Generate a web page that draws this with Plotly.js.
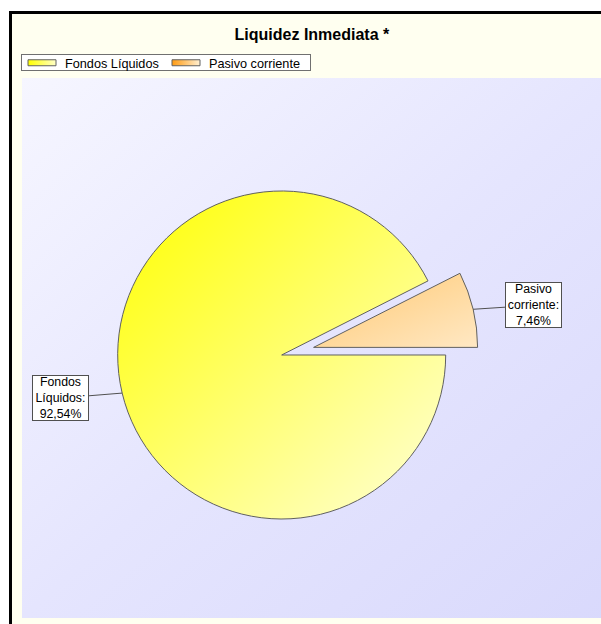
<!DOCTYPE html>
<html>
<head>
<meta charset="utf-8">
<script src="https://cdn.plot.ly/plotly-3.0.1.min.js"></script>
<style>
  html, body { margin: 0; padding: 0; background: #ffffff; width: 601px; height: 624px; overflow: hidden; }
  #frame { position: absolute; left: 9px; top: 11px; width: 640px; height: 640px;
           border-left: 3px solid #000; border-top: 3px solid #000; background: #fffff0; }
  #plotbg { position: absolute; left: 22px; top: 78px; width: 600px; height: 540px;
            background: linear-gradient(to bottom right, #f6f6ff 0%, #e5e5fe 50%, #d9d9fc 100%); }
  #chart { position: absolute; left: 0; top: 0; width: 601px; height: 624px; }
</style>
</head>
<body>
<div id="frame"></div>
<div id="plotbg"></div>
<div id="chart"></div>
<script>
// ---- data ----
const categories = ['Fondos Líquidos', 'Pasivo corriente'];
const values = [92.54, 7.46];
const pulls = [0, 0.2];

// ---- style ----
const W = 601, H = 624;
const domainX = [0.1412, 0.7962];
const domainY = [0.1157, 0.7465];
const rotation = 90; // start at 3 o'clock, clockwise
const baseColors = ['#ffff66', '#ffd899'];
const sliceGrad = [['#ffff00', '#ffffd8'], ['#ffc870', '#ffe8c4']];
const legendGrad = [['#ffff00', '#ffffc8'], ['#ff9a10', '#fff0d4']];
const labelOffsets = [[-61.5, 5], [60.5, -4]];
const font = 'Liberation Sans, Arial, sans-serif';

function fmtPct(v) { return v.toFixed(2).replace('.', ',') + '%'; }

// compute leader tips from pie geometry
const total = values.reduce((a, b) => a + b, 0);
const boxW = W * (domainX[1] - domainX[0]);
const boxH = H * (domainY[1] - domainY[0]);
const maxPull = Math.max.apply(null, pulls);
const r = Math.min(boxW / 2, boxH / 2) / (1 + maxPull);
const cx = W * (domainX[0] + domainX[1]) / 2;
const cy = H * (1 - domainY[0]) - boxH / 2;

let cum = 0;
const annotations = categories.map((c, i) => {
  const frac = values[i] / total;
  const midCw = rotation + (cum + frac / 2) * 360; // clockwise from 12 o'clock
  cum += frac;
  const a = midCw * Math.PI / 180;
  const rr = r * (1 + pulls[i]);
  const px = cx + rr * Math.sin(a);
  const py = cy - rr * Math.cos(a);
  return {
    x: px / W, y: 1 - py / H, xref: 'paper', yref: 'paper',
    text: c.replace(' ', '<br>') + ':<br>' + fmtPct(values[i]),
    showarrow: true, arrowhead: 0, arrowwidth: 1, arrowcolor: '#505050',
    ax: labelOffsets[i][0], ay: labelOffsets[i][1],
    width: 55, height: 44,
    bgcolor: '#ffffff', bordercolor: '#505050', borderwidth: 1, borderpad: 0,
    font: { family: font, size: 12.3, color: '#000' }, align: 'center'
  };
});

const trace = {
  type: 'pie',
  labels: categories,
  values: values,
  pull: pulls,
  sort: false,
  direction: 'clockwise',
  rotation: rotation,
  domain: { x: domainX, y: domainY },
  textinfo: 'none',
  hoverinfo: 'label+percent',
  marker: { colors: baseColors, line: { color: '#606060', width: 1 } }
};

const layout = {
  width: W, height: H,
  margin: { l: 0, r: 0, t: 0, b: 0 },
  paper_bgcolor: 'rgba(0,0,0,0)',
  plot_bgcolor: 'rgba(0,0,0,0)',
  title: { text: 'Liquidez Inmediata *', x: 0.519, xanchor: 'center', y: 1 - 34 / H, yanchor: 'middle',
           font: { family: font, size: 16, color: '#000', weight: 'bold' } },
  showlegend: true,
  legend: { orientation: 'h', x: 21 / W, xanchor: 'left', y: 1 - 54 / H, yanchor: 'top',
            entrywidth: 99, entrywidthmode: 'pixels',
            bgcolor: '#ffffff', bordercolor: '#707070', borderwidth: 1,
            font: { family: font, size: 12.7, color: '#000' }, traceorder: 'normal' },
  annotations: annotations
};

const gd = document.getElementById('chart');
Plotly.newPlot(gd, [trace], layout, { displayModeBar: false, staticPlot: true }).then(applyStyling);

function makeGrad(defs, id, c0, c1, x2, y2) {
  const ns = 'http://www.w3.org/2000/svg';
  let g = defs.querySelector('#' + id);
  if (g) g.remove();
  g = document.createElementNS(ns, 'linearGradient');
  g.setAttribute('id', id);
  g.setAttribute('x1', '0'); g.setAttribute('y1', '0');
  g.setAttribute('x2', x2); g.setAttribute('y2', y2);
  const s0 = document.createElementNS(ns, 'stop');
  s0.setAttribute('offset', '0'); s0.setAttribute('stop-color', c0);
  const s1 = document.createElementNS(ns, 'stop');
  s1.setAttribute('offset', '1'); s1.setAttribute('stop-color', c1);
  g.appendChild(s0); g.appendChild(s1);
  defs.appendChild(g);
}

function applyStyling() {
  const svg = gd.querySelector('svg.main-svg');
  const defs = svg.querySelector('defs');
  sliceGrad.forEach((c, i) => makeGrad(defs, 'sg' + i, c[0], c[1], '1', '1'));
  legendGrad.forEach((c, i) => makeGrad(defs, 'lg' + i, c[0], c[1], '1', '0'));
  gd.querySelectorAll('g.slice path.surface').forEach((p, i) => {
    p.style.fill = 'url(#sg' + i + ')';
  });
  gd.querySelectorAll('.legend g.traces').forEach((t, i) => {
    const p = t.querySelector('path.legendpie');
    if (p) {
      p.setAttribute('d', 'M-14,3H14V-3H-14Z');
      p.style.fill = 'url(#lg' + i + ')';
      p.style.stroke = '#606060';
      p.style.strokeWidth = '1px';
    }
    const tx = t.querySelector('text.legendtext');
    if (tx) tx.setAttribute('x', String(parseFloat(tx.getAttribute('x') || 0) + 3));
  });
  // compact legend box height like the reference
  const leg = gd.querySelector('g.legend');
  if (leg) {
    const bg = leg.querySelector('rect.bg');
    if (bg) bg.setAttribute('height', '16');
    const sb = leg.querySelector('g.scrollbox');
    if (sb) sb.setAttribute('transform', 'translate(0,-7)');
  }
}
</script>
</body>
</html>
